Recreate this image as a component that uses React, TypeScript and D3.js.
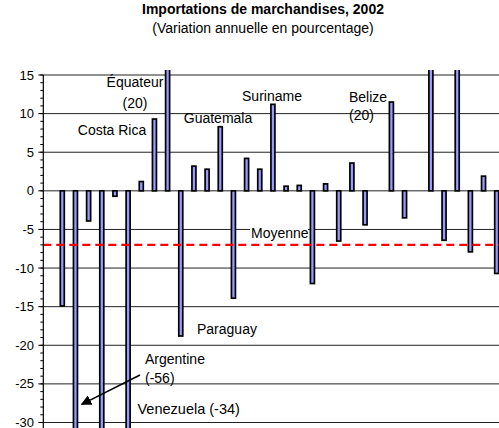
import React from "react";
import * as d3 from "d3";

const categories: string[] = [
  "", "Pays 1", "Argentine", "Pays 3", "Pays 4", "Pays 5", "Venezuela", "Pays 7",
  "Costa Rica", "Équateur", "Paraguay", "Pays 11", "Pays 12", "Guatemala", "Pays 14",
  "Pays 15", "Pays 16", "Suriname", "Pays 18", "Pays 19", "Pays 20", "Pays 21",
  "Pays 22", "Pays 23", "Pays 24", "Pays 25", "Pays 26", "Pays 27", "Pays 28",
  "Belize", "Pays 30", "Pays 31", "Pays 32", "Pays 33", "Pays 34",
];
const values: (number | null)[] = [
  null, -14.9, -56, -3.9, -38, -0.7, -34, 1.2,
  9.3, 20, -18.8, 3.2, 2.8, 8.3, -13.9,
  4.2, 2.8, 11.2, 0.6, 0.7, -12.0, 0.9,
  -6.5, 3.6, -4.4, null, 11.5, -3.5, null,
  20, -6.4, 18, -7.9, 1.9, -10.7,
];
const average = -7;
const yTicks: number[] = [15, 10, 5, 0, -5, -10, -15, -20, -25, -30];

const W = 499;
const H = 428;
const axisX = 43.3;
const plotTop = 70;

export default function App() {
  const step = 13.164;
  const x = d3
    .scaleBand<string>()
    .domain(categories)
    .range([42.55, 42.55 + categories.length * step])
    .padding(0);
  const y = d3.scaleLinear().domain([-30, 15]).range([422.5, 75]);
  const minor = d3.range(-30, 16, 1);
  const barW = 4;
  const font = "'Liberation Sans', Arial, sans-serif";

  return (
    <svg
      width={W}
      height={H}
      style={{ position: "absolute", left: 0, top: 0, background: "#fff" }}
      fontFamily={font}
    >
      <defs>
        <clipPath id="plot">
          <rect x={axisX} y={plotTop} width={W - axisX} height={H - plotTop} />
        </clipPath>
        <marker id="arrow" viewBox="0 0 10 10" refX="9" refY="5" markerWidth="7" markerHeight="7" orient="auto">
          <path d="M0,0 L10,5 L0,10 z" fill="#000" />
        </marker>
      </defs>

      <text x={263} y={13.5} textAnchor="middle" fontSize={14} fontWeight="bold" fill="#000">
        Importations de marchandises, 2002
      </text>
      <text x={263} y={32.5} textAnchor="middle" fontSize={14} fill="#000">
        (Variation annuelle en pourcentage)
      </text>

      {/* gridlines */}
      {yTicks.map((t) => (
        <line key={"g" + t} x1={axisX} x2={W} y1={y(t)} y2={y(t)} stroke="#222" strokeWidth={1} />
      ))}

      {/* bars */}
      <g clipPath="url(#plot)">
        {categories.map((c, i) => {
          const v = values[i];
          if (v === null) return null;
          const cx = (x(c) as number) + x.bandwidth() / 2;
          const y0 = y(0);
          const y1 = y(v);
          return (
            <rect
              key={"b" + i}
              x={cx - barW / 2}
              y={Math.min(y0, y1)}
              width={barW}
              height={Math.abs(y1 - y0)}
              fill="#9999FF"
              stroke="#000"
              strokeWidth={1.7}
            />
          );
        })}
      </g>

      {/* average line */}
      <line
        x1={axisX}
        x2={W}
        y1={y(average)}
        y2={y(average)}
        stroke="#FF0000"
        strokeWidth={2.4}
        strokeDasharray="8,5"
      />

      {/* y axis */}
      <line x1={axisX} x2={axisX} y1={y(15)} y2={H} stroke="#000" strokeWidth={1.2} />
      {minor.map((t) => (
        <line key={"m" + t} x1={axisX - 3} x2={axisX} y1={y(t)} y2={y(t)} stroke="#000" strokeWidth={1} />
      ))}
      {yTicks.map((t) => (
        <g key={"t" + t}>
          <line x1={axisX - 5} x2={axisX} y1={y(t)} y2={y(t)} stroke="#000" strokeWidth={1} />
          <text x={34} y={y(t) + 4.5} textAnchor="end" fontSize={13} fill="#000">
            {t}
          </text>
        </g>
      ))}

      {/* annotations */}
      <text x={135} y={86.5} textAnchor="middle" fontSize={14} fill="#000">Équateur</text>
      <text x={135} y={107.5} textAnchor="middle" fontSize={14} fill="#000">(20)</text>
      <text x={112} y={135} textAnchor="middle" fontSize={14} fill="#000">Costa Rica</text>
      <text x={218} y={123} textAnchor="middle" fontSize={14} fill="#000">Guatemala</text>
      <text x={272} y={100.5} textAnchor="middle" fontSize={14} fill="#000">Suriname</text>
      <text x={349} y={101.5} fontSize={14} fill="#000">Belize</text>
      <text x={349} y={120} fontSize={14} fill="#000">(20)</text>
      <rect x={250} y={228} width={58} height={13} fill="#fff" />
      <text x={251} y={238} fontSize={14} fill="#000">Moyenne</text>
      <text x={197} y={334} fontSize={14} fill="#000">Paraguay</text>
      <text x={145} y={364} fontSize={14} fill="#000">Argentine</text>
      <text x={145} y={383} fontSize={14} fill="#000">(-56)</text>
      <text x={137.5} y={414} fontSize={14.5} fill="#000">Venezuela (-34)</text>
      <line x1={140} y1={375} x2={81.7} y2={404.3} stroke="#000" strokeWidth={1.5} markerEnd="url(#arrow)" />
    </svg>
  );
}
